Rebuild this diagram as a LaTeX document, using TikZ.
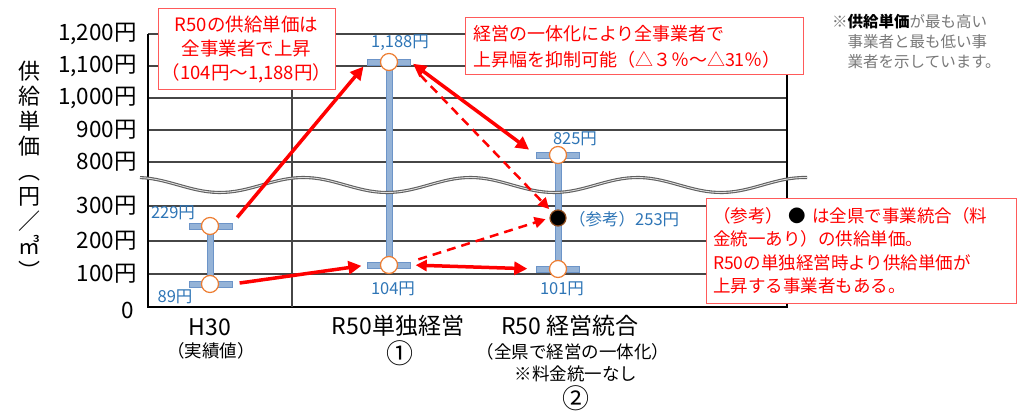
\documentclass[tikz,border=0pt]{standalone}
\usepackage{fontspec}
\setmainfont{Noto Sans CJK JP}
\usetikzlibrary{arrows.meta}
\definecolor{barblue}{RGB}{149,179,215}
\definecolor{baredge}{RGB}{108,148,200}
\definecolor{ringorange}{RGB}{237,125,49}
\definecolor{valblue}{RGB}{46,117,182}
\definecolor{boxred}{RGB}{255,90,90}
\definecolor{gridgray}{RGB}{70,70,70}
\definecolor{notegray}{RGB}{120,120,120}
\tikzset{
  ring/.style={circle, draw=ringorange, fill=white, line width=1.2pt, minimum size=17pt, inner sep=0pt},
  refdot/.style={circle, draw=ringorange!60!black, fill=black, line width=1.2pt, minimum size=16pt, inner sep=0pt},
  barcap/.style={rectangle, draw=baredge, fill=barblue, minimum width=43pt, minimum height=6pt, inner sep=0pt},
  val/.style={text=valblue, font=\fontsize{16.5}{16.5}\selectfont, inner sep=0pt},
  ticklbl/.style={anchor=east, font=\fontsize{22.5}{22.5}\selectfont, inner sep=0pt},
  catlbl/.style={font=\fontsize{23}{23}\selectfont, inner sep=0pt},
  numlbl/.style={font=\fontsize{27}{27}\selectfont, inner sep=0pt},
  sublbl/.style={font=\fontsize{17.5}{17.5}\selectfont, inner sep=0pt},
  callout/.style={draw=boxred, fill=white, line width=1pt, text=red, font=\fontsize{18.5}{24}\selectfont, inner sep=0pt},
  redarrow/.style={draw=red, line width=3.5pt, -{Triangle[length=13pt,width=13pt]}},
  dasharrow/.style={draw=red, line width=2.5pt, dash pattern=on 9pt off 6pt, -{Triangle[length=11pt,width=11pt]}},
  gridline/.style={draw=gridgray, line width=1.2pt}
}
\begin{document}
\begin{tikzpicture}[x=1pt,y=-1pt]
\useasboundingbox (0,0) rectangle (1019,414);
\def\breakwave{plot[domain=140:807,samples=120] (\x,{185+7.5*sin((\x-220)*2.156+90)})}
% grid
\foreach \yy in {34,66,98,130,162,206,241,274}
  \draw[gridline] (148,\yy) -- (787,\yy);
\draw[line width=1.2pt] (148,34) -- (148,307) -- (787,307) -- (787,34);
\draw[line width=1.8pt, gridgray] (292,34) -- (292,307);
% tick labels
\node[ticklbl] (t1200) at (137,34) {1,200円};
\node[ticklbl] (t1100) at (137,66) {1,100円};
\node[ticklbl] (t1000) at (137,98) {1,000円};
\node[ticklbl] (t900) at (137,130) {900円};
\node[ticklbl] (t800) at (137,162) {800円};
\node[ticklbl] (t300) at (137,206) {300円};
\node[ticklbl] (t200) at (137,241) {200円};
\node[ticklbl] (t100) at (137,274) {100円};
\node[ticklbl] (t0) at (134,310) {0};
\node[font=\fontsize{22}{25}\selectfont, align=center, inner sep=0pt] (ytitle) at (29,170)
  {供\\給\\単\\価\\︵\\円\\／\\㎥\\︶};
% bars
\draw[draw=baredge, fill=barblue] (207,226) rectangle (213,284);
\draw[draw=baredge, fill=barblue] (386,62) rectangle (392,265);
\draw[draw=baredge, fill=barblue] (555,155) rectangle (561,269);
\draw[draw=gray!75!black, double=gray!25, double distance=0.9pt, line width=1.1pt] \breakwave;
\node[barcap] (h30hicap) at (211,226) {};
\node[barcap] (h30locap) at (211,284) {};
\node[barcap] (r1hicap) at (389,62) {};
\node[barcap] (r1locap) at (389,265) {};
\node[barcap] (r2hicap) at (558,155) {};
\node[barcap] (r2locap) at (558,269) {};
\node[ring] (h30hi) at (210,226) {};
\node[ring] (h30lo) at (210,284) {};
\node[ring] (r1hi) at (389,62) {};
\node[ring] (r1lo) at (389,265) {};
\node[ring] (r2hi) at (558,155) {};
\node[ring] (r2lo) at (558,269) {};
\node[refdot] (r2ref) at (558,218) {};
% values
\node[val] (v229) at (173,213) {229円};
\node[val] (v89) at (175,297) {89円};
\node[val] (v1188) at (400,43) {1,188円};
\node[val] (v104) at (393,289) {104円};
\node[val] (v825) at (575,139) {825円};
\node[val] (v101) at (562,289) {101円};
\node[val, anchor=west] (v253) at (569,219) {（参考）253円};
% arrows
\draw[redarrow, shorten <=7pt, shorten >=6pt] (h30hicap.north east) -- (r1hicap.west);
\draw[redarrow, shorten <=7pt, shorten >=6pt] (h30locap.east) -- (r1locap.west);
\draw[redarrow, {Triangle[length=13pt,width=13pt]}-{Triangle[length=13pt,width=13pt]}, shorten <=3pt, shorten >=9pt] (r1hicap.east) -- (r2hicap.west);
\draw[redarrow, {Triangle[length=11pt,width=11pt]}-{Triangle[length=13pt,width=13pt]}, shorten <=5pt, shorten >=9pt] (r1locap.east) -- (r2locap.west);
\draw[dasharrow, shorten <=14pt, shorten >=4pt] (r1hicap.south east) -- (r2ref.north west);
\draw[dasharrow, shorten <=8pt, shorten >=4pt] (r1locap.north east) -- (r2ref.west);
% categories
\node[catlbl] (c1) at (210,327) {H30};
\node[sublbl] (c1b) at (211,351) {（実績値）};
\node[catlbl] (c2) at (398,326) {R50単独経営};
\node[numlbl] (c2b) at (400,353) {①};
\node[catlbl] (c3) at (570,326) {R50 経営統合};
\node[sublbl] (c3b) at (573,352) {（全県で経営の一体化）};
\node[sublbl] (c3c) at (576,374) {※料金統一なし};
\node[numlbl] (c3d) at (576,398) {②};
% callouts
\node[callout, align=center, minimum width=177pt, minimum height=81pt] (box1) at (246.5,49.5)
  {R50の供給単価は\\全事業者で上昇\\（104円～1,188円）};
\node[callout, align=left, minimum width=338pt, minimum height=57pt, font=\fontsize{18}{26}\selectfont, text width=322pt] (box2) at (634,46.5)
  {経営の一体化により全事業者で\\上昇幅を抑制可能（△３％～△31％）};
\node[callout, align=left, minimum width=310pt, minimum height=105pt, text width=296pt, font=\fontsize{17.5}{23.5}\selectfont] (box3) at (861,250.5)
  {（参考）\ \textcolor{black}{●}\ は全県で事業統合（料\\金統一あり）の供給単価。\\R50の単独経営時より供給単価が\\上昇する事業者もある。};
\node[anchor=north west, align=left, text=notegray, font=\fontsize{15.5}{20}\selectfont, inner sep=0pt] (note) at (832,14)
  {※\textcolor{black}{\textbf{供給単価}}が最も高い\\\phantom{※}事業者と最も低い事\\\phantom{※}業者を示しています。};
\end{tikzpicture}
\end{document}
